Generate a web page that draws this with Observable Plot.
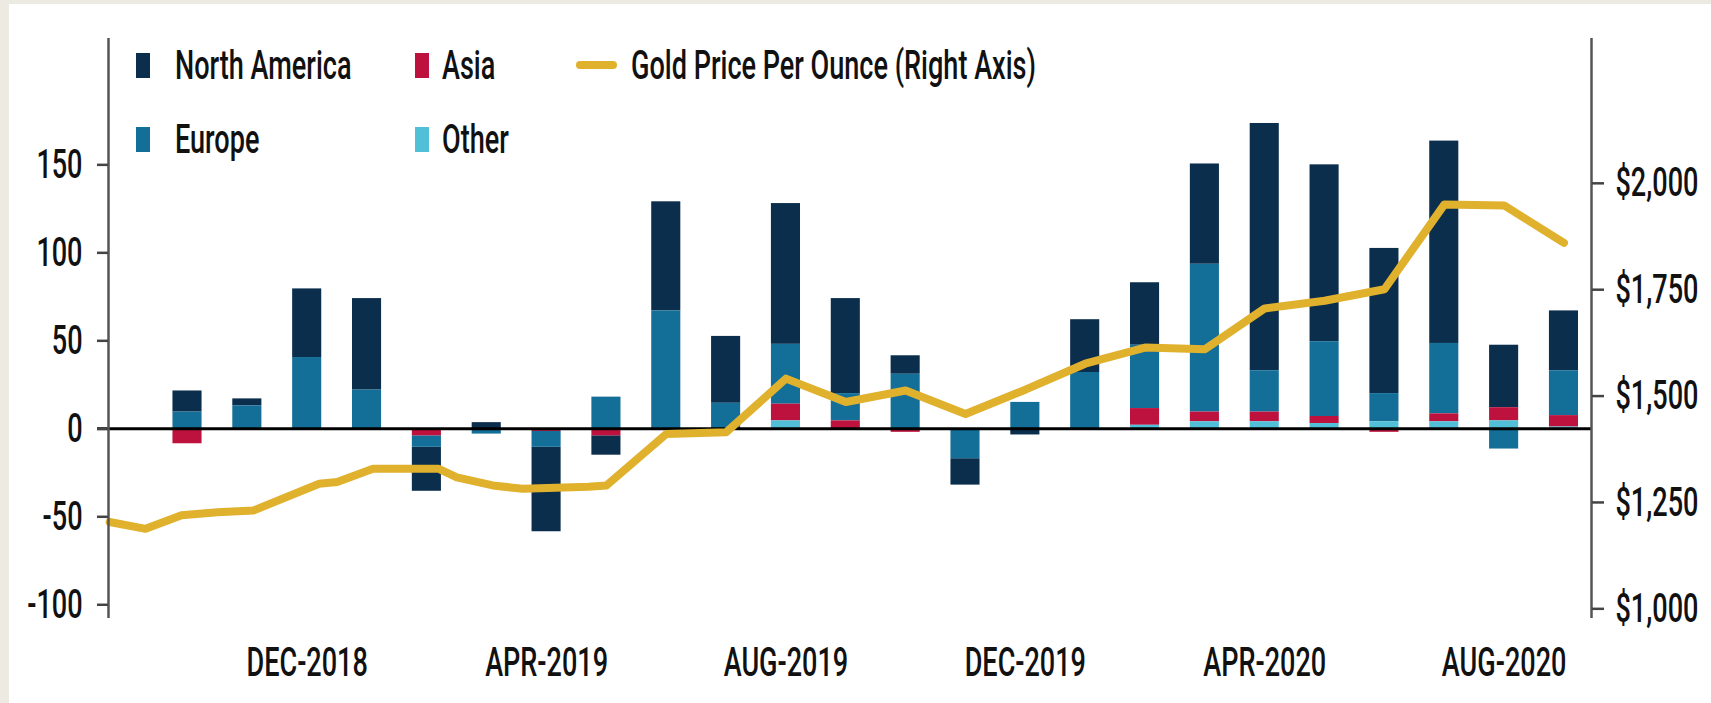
<!DOCTYPE html>
<html>
<head>
<meta charset="utf-8">
<script src="https://cdn.jsdelivr.net/npm/d3@7"></script>
<script src="https://cdn.jsdelivr.net/npm/@observablehq/plot@0.6"></script>
<style>
  html, body { margin: 0; padding: 0; background: #edeae2; }
  #wrap { position: relative; width: 1711px; height: 703px; overflow: hidden; }
  #panel { position: absolute; left: 9px; top: 4px; right: 0; bottom: 0; background: #fff; }
  #chart { position: absolute; left: 0; top: 0; }
  .lg { position: absolute; display: flex; align-items: center; height: 42px;
        font-family: Roboto, "Liberation Sans", sans-serif; font-weight: 500; font-size: 41px; color: #111; white-space: nowrap; }
  .lg .sw { flex: none; }
  .lg .tx { display: inline-block; transform: scaleX(0.66); transform-origin: left center; }
</style>
</head>
<body>
<div id="wrap"><div id="panel"></div><div id="chart"></div></div>
<script>
// ---- data ----
const months = ["OCT-2018","NOV-2018","DEC-2018","JAN-2019","FEB-2019","MAR-2019","APR-2019","MAY-2019","JUN-2019","JUL-2019","AUG-2019","SEP-2019","OCT-2019","NOV-2019","DEC-2019","JAN-2020","FEB-2020","MAR-2020","APR-2020","MAY-2020","JUN-2020","JUL-2020","AUG-2020","SEP-2020"];
const northAmerica = [12, 4, 39, 52, -25, 3.5, -48, -11, 62, 38, 80, 54, 10.5, -15, -3.5, 30, 35.5, 57, 140.5, 100.5, 82.5, 115, 35.5, 34];
const europe = [9.5, 13, 40.5, 22, -6.5, -3, -9, 18, 67, 14.5, 34, 15.5, 31, -17, 15, 32, 36, 84, 23.5, 42.5, 16, 40, -11.5, 25.5];
const asia = [-8.5, 0, 0, 0, -4, 0, -1.5, -4, 0, 0, 9.5, 4.5, -2, 0, 0, 0, 9.5, 5.5, 5.5, 4, -2, 4.5, 7.5, 6.5];
const other = [0, 0, 0, 0, 0, 0, 0, 0, 0, 0, 4.5, 0, 0, 0, 0, 0, 2, 4, 4, 3, 4, 4, 4.5, 1];
// gold price line: position in months from OCT-2018 (=0), price in $/oz
const goldPos = [-1.3, -0.7, -0.1, 0.5, 1.1, 2.2, 2.5, 3.1, 4.2, 4.5, 5.1, 5.6, 6.7, 7, 8, 9, 10, 11, 12, 13, 14, 15, 16, 17, 18, 19, 20, 21, 22, 23];
const goldPrice = [1204, 1188, 1220, 1227, 1231, 1294, 1298, 1329, 1329, 1309, 1290, 1282, 1287, 1290, 1411, 1415, 1541, 1486, 1513, 1458, 1515, 1576, 1614, 1610, 1706, 1724, 1751, 1950, 1948, 1860];
const regions = ["North America", "Europe", "Asia", "Other"];
const regionColors = ["#0b2e4c", "#136e98", "#bd123d", "#52bfd8"];
const stackOrder = ["Other", "Asia", "Europe", "North America"];
const leftTicks = [-100, -50, 0, 50, 100, 150];
const goldTicks = [1000, 1250, 1500, 1750, 2000];
const xLabelMonths = ["DEC-2018", "APR-2019", "AUG-2019", "DEC-2019", "APR-2020", "AUG-2020"];
const goldColor = "#e0b12d";

// ---- build tables ----
const seriesByRegion = {"North America": northAmerica, "Europe": europe, "Asia": asia, "Other": other};
const rows = [];
months.forEach((m, i) => regions.forEach(r => rows.push({i, month: m, region: r, value: seriesByRegion[r][i]})));
const gold = goldPos.map((p, k) => ({pos: p, price: goldPrice[k]}));

// right axis mapping onto left units
const toLeft = g => -102.3 + (g - 1000) * 0.2418;
const fromLeft = v => 1000 + (v + 102.3) / 0.2418;

const xDomain = [-1.32, 23.46];
const yDomain = [-107.8, 221.8];
const halfW = 0.243;

const chart = Plot.plot({
  width: 1711, height: 703,
  marginLeft: 108, marginRight: 120, marginTop: 38, marginBottom: 85,
  style: {background: "transparent", fontFamily: "Roboto, 'Liberation Sans', sans-serif", fontSize: "41px", fontWeight: 500, color: "#111"},
  x: {domain: xDomain, axis: null, label: null},
  y: {domain: yDomain, axis: null, label: null},
  color: {domain: regions, range: regionColors},
  marks: [
    Plot.rectY(rows, {x1: d => d.i - halfW, x2: d => d.i + halfW, y: "value", fill: "region", order: stackOrder}),
    Plot.ruleY([0], {stroke: "#000", strokeWidth: 3, insetLeft: -11}),
    Plot.line(gold, {x: "pos", y: d => toLeft(d.price), stroke: goldColor, strokeWidth: 8, strokeLinecap: "round", strokeLinejoin: "round"}),
    Plot.ruleX([xDomain[0]], {stroke: "#555", strokeWidth: 2.5}),
    Plot.ruleX([xDomain[1]], {stroke: "#555", strokeWidth: 2.5}),
    Plot.axisY(leftTicks, {anchor: "left", label: null, tickSize: 11, tickPadding: 15, stroke: "#444", strokeWidth: 2.5, tickFormat: d => String(d)}),
    Plot.axisY(goldTicks.map(toLeft), {anchor: "right", label: null, tickSize: 12, tickPadding: 12, stroke: "#444", strokeWidth: 2.5, tickFormat: d => d3.format("$,")(Math.round(fromLeft(d) / 10) * 10)}),
    Plot.axisX(xLabelMonths.map(m => months.indexOf(m)), {anchor: "bottom", label: null, tickSize: 0, tickPadding: 28, tickFormat: i => months[i]})
  ]
});

// condense text horizontally (reference uses a condensed face)
chart.querySelectorAll("text").forEach(t => {
  const tr = t.getAttribute("transform");
  if (tr) t.setAttribute("transform", tr + " scale(0.66,1)");
  else {
    const x = +t.getAttribute("x") || 0;
    t.removeAttribute("x");
    t.setAttribute("transform", `translate(${x},0) scale(0.66,1)`);
  }
});
document.getElementById("chart").appendChild(chart);

// ---- legend (overlaid inside the plot area) ----
const legendItems = [
  {label: "North America", kind: "box", color: regionColors[0], left: 136, top: 65, textGap: 25},
  {label: "Asia", kind: "box", color: regionColors[2], left: 415, top: 65, textGap: 13},
  {label: "Gold Price Per Ounce (Right Axis)", kind: "line", color: goldColor, left: 576, top: 65, textGap: 14},
  {label: "Europe", kind: "box", color: regionColors[1], left: 136, top: 139, textGap: 25},
  {label: "Other", kind: "box", color: regionColors[3], left: 415, top: 139, textGap: 13}
];
const wrap = document.getElementById("wrap");
legendItems.forEach(it => {
  const div = document.createElement("div");
  div.className = "lg";
  div.style.left = it.left + "px";
  div.style.top = (it.top - 21) + "px";
  const sw = document.createElement("span");
  sw.className = "sw";
  if (it.kind === "box") {
    sw.style.cssText = `width:14px;height:25px;background:${it.color};margin-right:${it.textGap}px`;
  } else {
    sw.style.cssText = `width:41px;height:8px;border-radius:4px;background:${it.color};margin-right:${it.textGap}px`;
  }
  const tx = document.createElement("span");
  tx.className = "tx";
  tx.textContent = it.label;
  div.appendChild(sw);
  div.appendChild(tx);
  wrap.appendChild(div);
});
</script>
</body>
</html>
